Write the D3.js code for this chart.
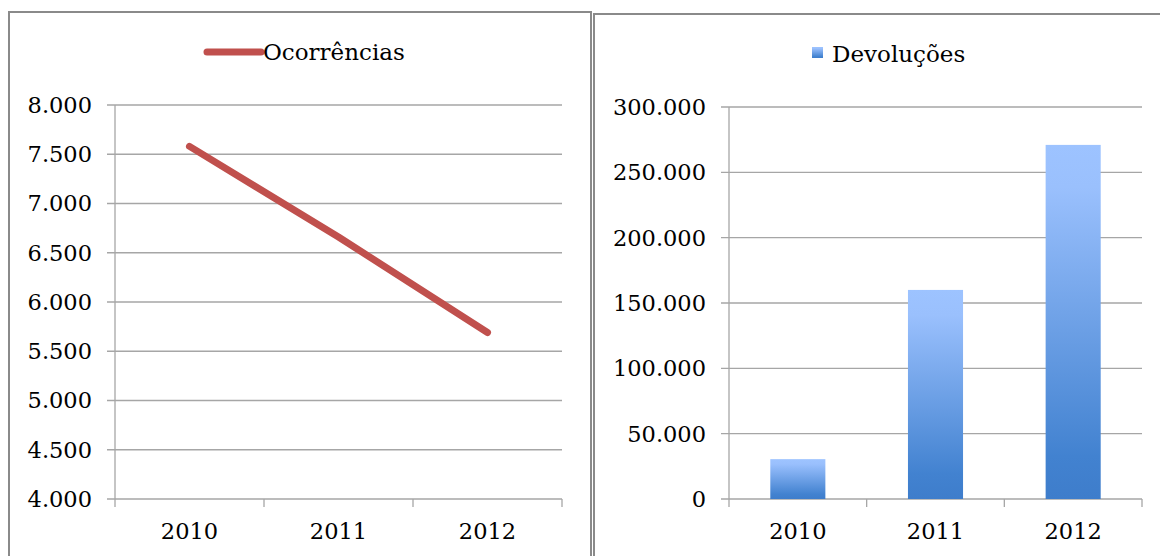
<!DOCTYPE html>
<html>
<head>
<meta charset="utf-8">
<script src="https://cdn.jsdelivr.net/npm/d3@7"></script>
<style>
  body { margin: 0; background: #fff; }
  svg text { font-family: "DejaVu Serif", serif; fill: #000; }
</style>
</head>
<body>
<div id="chart"></div>
<script>
const years = ['2010', '2011', '2012'];
const ocorrencias = [7580, 6660, 5690];
const devolucoes = [30500, 160000, 271000];
const leftTicks = [4000, 4500, 5000, 5500, 6000, 6500, 7000, 7500, 8000];
const rightTicks = [0, 50000, 100000, 150000, 200000, 250000, 300000];

const width = 1160;
const height = 556;
const gridColor = '#a6a6a6';
const fontSize = 22.5;
const legendSize = 23;

const locale = d3.formatLocale({
  decimal: ',',
  thousands: '.',
  grouping: [3],
  currency: ['', '']
});
const fmt = locale.format(',d');

const svg = d3
  .select('#chart')
  .append('svg')
  .attr('width', width)
  .attr('height', height);

const defs = svg.append('defs');
const barGrad = defs
  .append('linearGradient')
  .attr('id', 'bar-gradient')
  .attr('x1', 0)
  .attr('x2', 0)
  .attr('y1', 0)
  .attr('y2', 1);
barGrad.append('stop').attr('offset', '0%').attr('stop-color', '#9dc3ff');
barGrad.append('stop').attr('offset', '12%').attr('stop-color', '#9ac0fd');
barGrad.append('stop').attr('offset', '88%').attr('stop-color', '#4282d0');
barGrad.append('stop').attr('offset', '100%').attr('stop-color', '#3e7dcb');

// panel borders
svg
  .append('rect')
  .attr('x', 9)
  .attr('y', 12)
  .attr('width', 582)
  .attr('height', 580)
  .attr('fill', 'none')
  .attr('stroke', '#8a8a8a')
  .attr('stroke-width', 2);
svg
  .append('rect')
  .attr('x', 594)
  .attr('y', 14)
  .attr('width', 600)
  .attr('height', 580)
  .attr('fill', 'none')
  .attr('stroke', '#8a8a8a')
  .attr('stroke-width', 2);

// draws gridlines, y labels, axis lines and category ticks for one panel
const drawFrame = (g, x, y, ticks) => {
  const [x0, x1] = x.range();
  const [yBottom, yTop] = y.range();

  g.append('g')
    .selectAll('line')
    .data(ticks)
    .enter()
    .append('line')
    .attr('x1', x0 - 8)
    .attr('x2', x1)
    .attr('y1', d => y(d))
    .attr('y2', d => y(d))
    .attr('stroke', gridColor)
    .attr('stroke-width', 1.3);

  g.append('g')
    .selectAll('text')
    .data(ticks)
    .enter()
    .append('text')
    .attr('x', x0 - 23)
    .attr('y', d => y(d))
    .attr('dy', '0.35em')
    .attr('text-anchor', 'end')
    .style('font-size', `${fontSize}px`)
    .text(d => fmt(d));

  g.append('line')
    .attr('x1', x0)
    .attr('x2', x0)
    .attr('y1', yTop)
    .attr('y2', yBottom)
    .attr('stroke', gridColor)
    .attr('stroke-width', 1.3);

  const bounds = [x0].concat(years.map(d => x(d) + x.bandwidth()));
  g.append('g')
    .selectAll('line')
    .data(bounds)
    .enter()
    .append('line')
    .attr('x1', d => d)
    .attr('x2', d => d)
    .attr('y1', yBottom)
    .attr('y2', yBottom + 8)
    .attr('stroke', gridColor)
    .attr('stroke-width', 1.3);

  g.append('g')
    .selectAll('text')
    .data(years)
    .enter()
    .append('text')
    .attr('x', d => x(d) + x.bandwidth() / 2)
    .attr('y', yBottom + 40)
    .attr('text-anchor', 'middle')
    .style('font-size', `${fontSize}px`)
    .text(d => d);
};

// left: line chart
const xLeft = d3.scaleBand().domain(years).range([115, 562]);
const yLeft = d3.scaleLinear().domain([4000, 8000]).range([499, 105]);
const left = svg.append('g');
drawFrame(left, xLeft, yLeft, leftTicks);

const line = d3
  .line()
  .x((d, i) => xLeft(years[i]) + xLeft.bandwidth() / 2)
  .y(d => yLeft(d));

left
  .append('path')
  .datum(ocorrencias)
  .attr('d', line)
  .attr('fill', 'none')
  .attr('stroke', '#c0504d')
  .attr('stroke-width', 7)
  .attr('stroke-linecap', 'round')
  .attr('stroke-linejoin', 'round');

left
  .append('line')
  .attr('x1', 207)
  .attr('x2', 261)
  .attr('y1', 52)
  .attr('y2', 52)
  .attr('stroke', '#c0504d')
  .attr('stroke-width', 7)
  .attr('stroke-linecap', 'round');
left
  .append('text')
  .attr('x', 263)
  .attr('y', 60)
  .style('font-size', `${legendSize}px`)
  .text('Ocorrências');

// right: bar chart
const xRight = d3.scaleBand().domain(years).range([729, 1142]);
const yRight = d3.scaleLinear().domain([0, 300000]).range([499, 107]);
const right = svg.append('g');
drawFrame(right, xRight, yRight, rightTicks);

const barScale = d3
  .scaleBand()
  .domain(years)
  .range(xRight.range())
  .paddingInner(0.6)
  .paddingOuter(0.3);

right
  .append('g')
  .selectAll('rect')
  .data(devolucoes)
  .enter()
  .append('rect')
  .attr('x', (d, i) => barScale(years[i]))
  .attr('width', barScale.bandwidth())
  .attr('y', d => yRight(d))
  .attr('height', d => yRight(0) - yRight(d))
  .attr('fill', 'url(#bar-gradient)');

right
  .append('rect')
  .attr('x', 812)
  .attr('y', 47)
  .attr('width', 11)
  .attr('height', 11)
  .attr('fill', 'url(#bar-gradient)');
right
  .append('text')
  .attr('x', 832)
  .attr('y', 62)
  .style('font-size', `${legendSize}px`)
  .text('Devoluções');
</script>
</body>
</html>
